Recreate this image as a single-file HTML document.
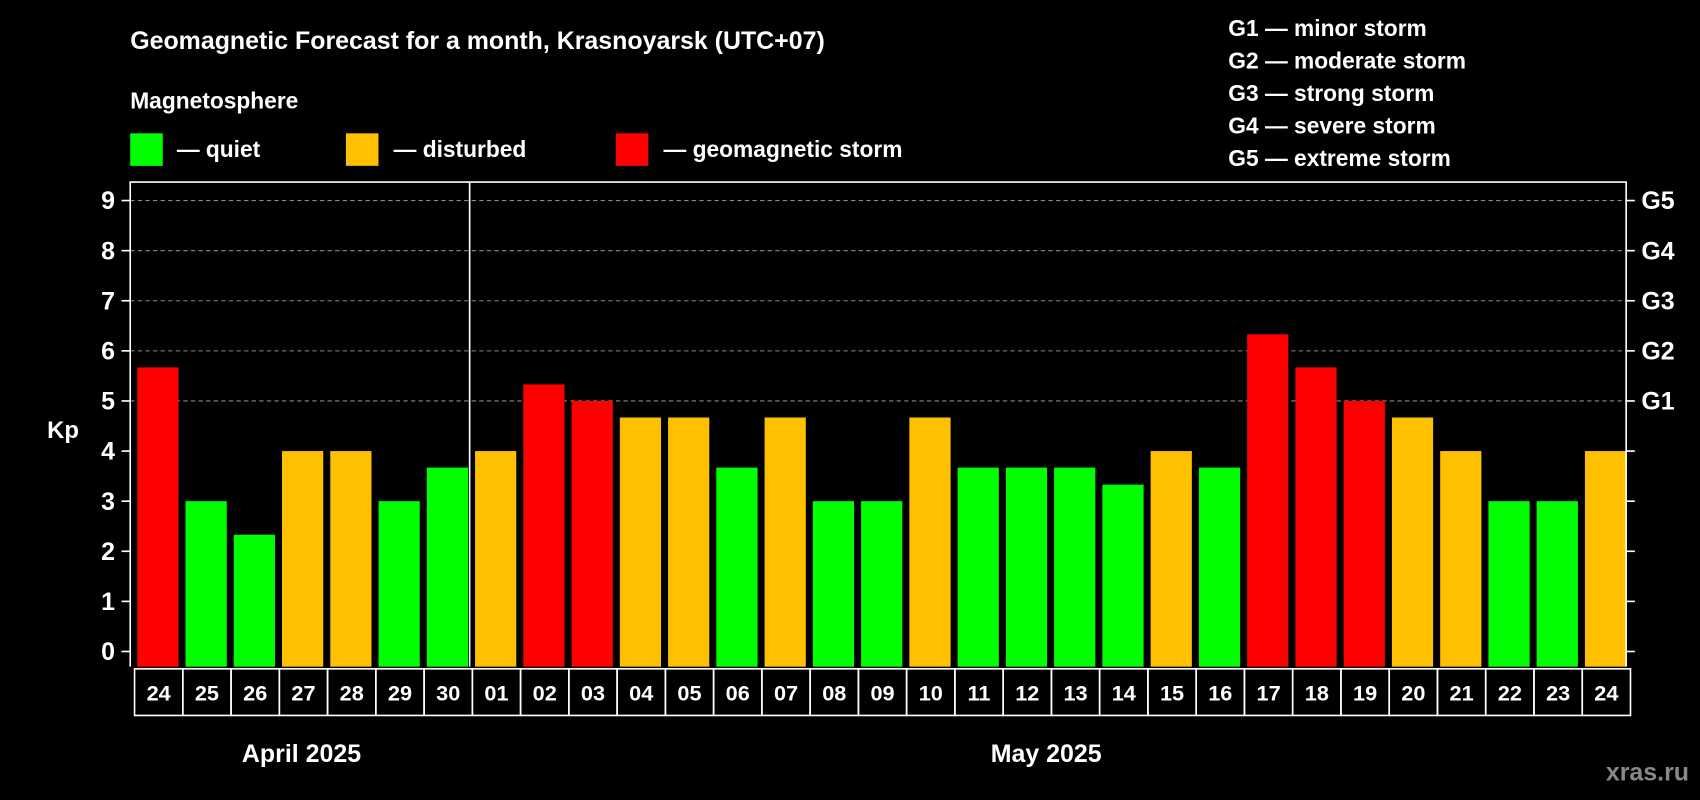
<!DOCTYPE html>
<html><head><meta charset="utf-8"><style>
html,body{margin:0;padding:0;background:#000;}
svg{display:block;font-family:"Liberation Sans",Arial,sans-serif;font-weight:bold;}
</style></head><body>
<svg id="chart" width="1700" height="800" viewBox="0 0 1568 738" xmlns="http://www.w3.org/2000/svg">
<rect x="0" y="0" width="1568" height="738" fill="#000"/>
<text x="120" y="45" fill="#fff" font-size="23">Geomagnetic Forecast for a month, Krasnoyarsk (UTC+07)</text>
<text x="120" y="100" fill="#fff" font-size="21">Magnetosphere</text>
<g><rect x="120" y="123" width="30" height="30" fill="#00ff00"/><text x="163" y="145" fill="#fff" font-size="21">— quiet</text></g>
<g><rect x="319" y="123" width="30" height="30" fill="#ffc000"/><text x="363" y="145" fill="#fff" font-size="21">— disturbed</text></g>
<g><rect x="568" y="123" width="30" height="30" fill="#ff0000"/><text x="612" y="145" fill="#fff" font-size="21">— geomagnetic storm</text></g>
<g fill="#fff" font-size="21">
<text x="1133" y="33">G1 — minor storm</text>
<text x="1133" y="63">G2 — moderate storm</text>
<text x="1133" y="93">G3 — strong storm</text>
<text x="1133" y="123">G4 — severe storm</text>
<text x="1133" y="153">G5 — extreme storm</text>
</g>
<text x="58" y="404" fill="#fff" font-size="22" text-anchor="middle">Kp</text>
<g id="grid"></g><g id="bars"></g><g id="axes"></g>
<text x="278" y="703" fill="#fff" font-size="23" text-anchor="middle">April 2025</text>
<text x="965" y="703" fill="#fff" font-size="23" text-anchor="middle">May 2025</text>
<text x="1558" y="720" fill="#888" font-size="23" text-anchor="end">xras.ru</text>
</svg>
<script>
const days=["24","25","26","27","28","29","30","01","02","03","04","05","06","07","08","09","10","11","12","13","14","15","16","17","18","19","20","21","22","23","24"];
const kp=[5.67,3,2.33,4,4,3,3.67,4,5.33,5,4.67,4.67,3.67,4.67,3,3,4.67,3.67,3.67,3.67,3.33,4,3.67,6.33,5.67,5,4.67,4,3,3,4];
const yTicks=[0,1,2,3,4,5,6,7,8,9];
const gLabels=["G1","G2","G3","G4","G5"];
const NS="http://www.w3.org/2000/svg";
const L=120,R=1500,T=168,B=615,Y0=601,Y9=185;
const y=v=>Y0-(Y0-Y9)*v/9;
const step=(R-L)/days.length;
const x=i=>L+i*step;
function mk(tag,attrs,parent){const e=document.createElementNS(NS,tag);for(const k in attrs)e.setAttribute(k,attrs[k]);parent.appendChild(e);return e;}
const grid=document.getElementById('grid'),bars=document.getElementById('bars'),axes=document.getElementById('axes');
yTicks.forEach(v=>{
  if(v>=5){const g=mk('line',{x1:L,x2:R,y1:y(v),y2:y(v),stroke:'#888','stroke-dasharray':'4,3','stroke-width':1},grid);
  
  }
  const t=mk('line',{x1:L-8,x2:L,y1:y(v),y2:y(v),stroke:'#fff','stroke-width':1.5},axes);
  
  
  const t2=mk('line',{x1:R,x2:R+8,y1:y(v),y2:y(v),stroke:'#fff','stroke-width':1.5},axes);
  
  
  const lb=mk('text',{x:L-14,y:y(v)+8,fill:'#fff','font-size':23,'text-anchor':'end'},axes);
  lb.textContent=v;
  
  
});
gLabels.forEach((g,i)=>{
  const lb=mk('text',{x:R+14,y:y(5+i)+8,fill:'#fff','font-size':23},axes);
  lb.textContent=g;
  
  
});
kp.forEach((v,i)=>{
  const c=v>=5?'#ff0000':(v>=4?'#ffc000':'#00ff00');
  const r=mk('rect',{x:x(i)+6.5,y:y(v),width:step-6.5,height:B-y(v),fill:c},bars);
  
  
  const cell=mk('rect',{x:x(i)+4,y:B+2,width:step,height:43,fill:'none',stroke:'#fff','stroke-width':1.5},axes);
  
  
  const t=mk('text',{x:x(i)+4+step/2,y:B+31,fill:'#fff','font-size':20,'text-anchor':'middle'},axes);
  t.textContent=days[i];
  
  
});
const frame=mk('path',{d:`M${L},${B} L${L},${T} L${R},${T} L${R},${B}`,fill:'none',stroke:'#fff','stroke-width':1.5},axes);


const div=mk('line',{x1:x(7)+1.5,x2:x(7)+1.5,y1:T,y2:B,stroke:'#fff','stroke-width':1.5},axes);


</script>
</body></html>
